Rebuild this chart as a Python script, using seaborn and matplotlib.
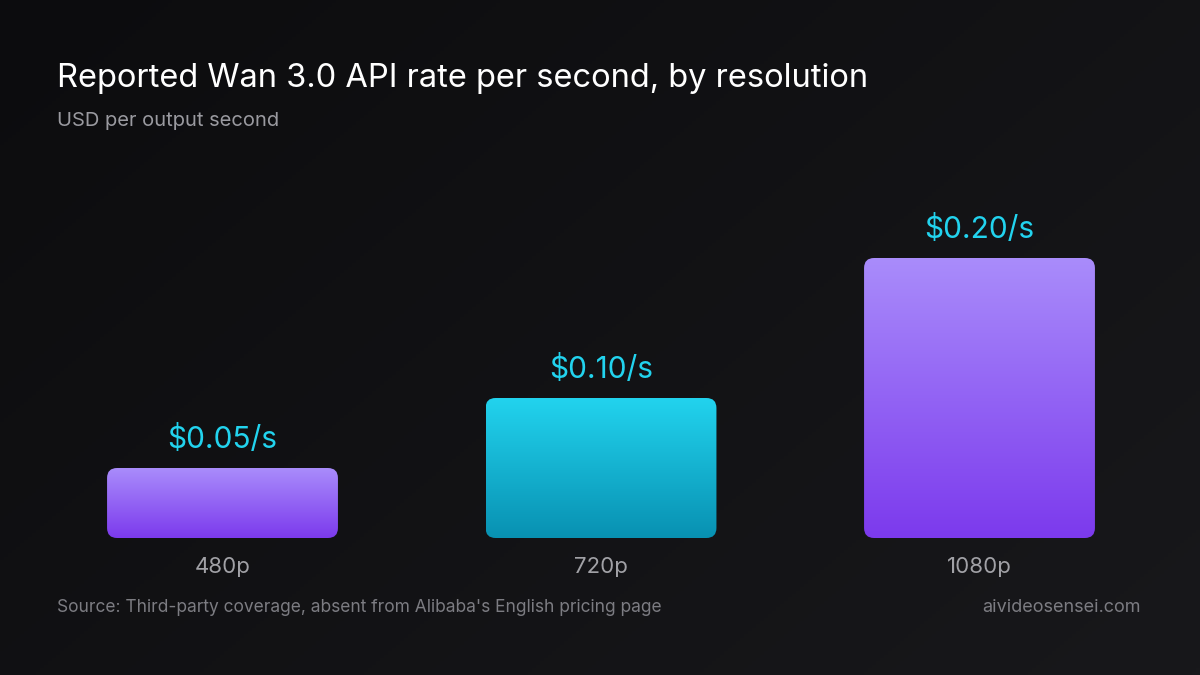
import numpy as np
import pandas as pd
import matplotlib
matplotlib.use("Agg")
import matplotlib.pyplot as plt
import seaborn as sns
from matplotlib.patches import FancyBboxPatch
from matplotlib.colors import LinearSegmentedColormap

# ---- data ----
resolutions = ["480p", "720p", "1080p"]
rates = [0.05, 0.10, 0.20]
value_labels = ["$0.05/s", "$0.10/s", "$0.20/s"]
title = "Reported Wan 3.0 API rate per second, by resolution"
subtitle = "USD per output second"
source = "Source: Third-party coverage, absent from Alibaba's English pricing page"
brand = "aivideosensei.com"

df = pd.DataFrame({"resolution": resolutions, "rate": rates})

sns.set_theme(style="dark")
plt.rcParams["font.family"] = ["Inter", "DejaVu Sans"]

W, H = 1200, 675
fig = plt.figure(figsize=(12, 6.75), dpi=100)

# background gradient
bg = fig.add_axes([0, 0, 1, 1])
gx, gy = np.meshgrid(np.linspace(0, 1, 300), np.linspace(0, 1, 200))
grad = (gx * 0.6 + gy * 0.4)
bg_cmap = LinearSegmentedColormap.from_list("bg", ["#0c0c0e", "#18181b"])
bg.imshow(grad, cmap=bg_cmap, aspect="auto", extent=[0, 1, 0, 1], origin="upper")
bg.set_axis_off()

# main axes
px_x = 378.5
px_y = 1400.0
left_px = 601 - 1.5 * px_x
bottom_px = 137
ax_h_px = 0.25 * px_y
ax = fig.add_axes([left_px / W, bottom_px / H, 3 * px_x / W, ax_h_px / H])
ax.set_facecolor("none")

sns.barplot(data=df, x="resolution", y="rate", ax=ax, width=0.61, color="#888888")
ax.set_xlim(-0.5, 2.5)
ax.set_ylim(0, 0.25)

purple = LinearSegmentedColormap.from_list("p", ["#7c3aed", "#a98cfb"])
cyan = LinearSegmentedColormap.from_list("c", ["#0891b2", "#22d3ee"])
cmaps = [purple, cyan, purple]

aspect = px_x / px_y
r = 10 / px_x
bars = list(ax.patches)
for i, b in enumerate(bars):
    x0, w, h = b.get_x(), b.get_width(), b.get_height()
    b.remove()
    patch = FancyBboxPatch((x0, 0), w, h,
                           boxstyle=f"round,pad=0,rounding_size={r}",
                           mutation_aspect=aspect, facecolor="none",
                           edgecolor="none")
    ax.add_patch(patch)
    g = np.linspace(0, 1, 256).reshape(-1, 1)
    im = ax.imshow(g, cmap=cmaps[i], origin="lower", aspect="auto",
                   extent=[x0, x0 + w, 0, h], zorder=2)
    im.set_clip_path(patch)
    ax.text(x0 + w / 2, h + 14 / px_y, value_labels[i],
            ha="center", va="bottom", color="#22d3ee", fontsize=21.5)

ax.set_xlim(-0.5, 2.5)
ax.set_ylim(0, 0.25)
ax.set_xlabel("")
ax.set_ylabel("")
ax.set_yticks([])
ax.tick_params(axis="x", colors="#a1a1a6", labelsize=16, pad=14, length=0)
for s in ax.spines.values():
    s.set_visible(False)
ax.grid(False)

fig.text(57 / W, 1 - 79 / H, title, color="#ffffff", fontsize=23.5,
         ha="left", va="center")
fig.text(57 / W, 1 - 121 / H, subtitle, color="#9a9aa0", fontsize=14.5,
         ha="left", va="center")
fig.text(57 / W, 1 - 608 / H, source, color="#7c7c82", fontsize=12.5,
         ha="left", va="center")
fig.text(1141 / W, 1 - 608 / H, brand, color="#7c7c82", fontsize=13,
         ha="right", va="center")

fig.savefig("out.png", dpi=100, facecolor="#111113")
